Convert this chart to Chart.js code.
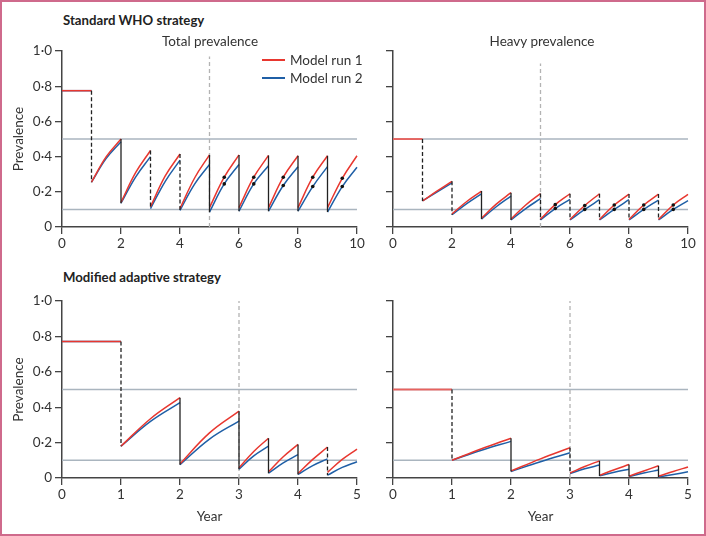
<!DOCTYPE html>
<html><head><meta charset="utf-8">
<script src="https://cdn.jsdelivr.net/npm/chart.js@4.4.1/dist/chart.umd.min.js"></script>
<style>
html,body{margin:0;padding:0;background:#fff;}
body{width:706px;height:536px;position:relative;overflow:hidden;}
#frame{position:absolute;left:0;top:0;width:706px;height:536px;box-sizing:border-box;border:2px solid #cf6a8c;pointer-events:none;}
.box{position:absolute;}
.h{position:absolute;font-family:Lato;font-weight:bold;font-size:13.2px;line-height:16px;color:#222;white-space:nowrap;}
.t{position:absolute;font-family:Lato;font-size:13.5px;line-height:16px;color:#333;white-space:nowrap;}
.lg{position:absolute;height:1.6px;width:23px;}
</style></head><body>
<div class="box" style="left:0;top:40px;width:372px;height:217px"><canvas id="c1" width="372" height="217"></canvas></div>
<div class="box" style="left:363px;top:40px;width:340px;height:217px"><canvas id="c2" width="340" height="217"></canvas></div>
<div class="box" style="left:0;top:290px;width:372px;height:236px"><canvas id="c3" width="372" height="236"></canvas></div>
<div class="box" style="left:363px;top:290px;width:340px;height:236px"><canvas id="c4" width="340" height="236"></canvas></div>

<div class="h" style="left:63px;top:12px">Standard WHO strategy</div>
<div class="h" style="left:63px;top:269px">Modified adaptive strategy</div>
<div class="t" style="left:210px;top:33px;transform:translateX(-50%)">Total prevalence</div>
<div class="t" style="left:542px;top:33px;transform:translateX(-50%)">Heavy prevalence</div>
<div class="lg" style="left:262px;top:59px;background:#e8372f"></div>
<div class="t" style="left:290px;top:52px">Model run 1</div>
<div class="lg" style="left:262px;top:77px;background:#1f5fa6"></div>
<div class="t" style="left:290px;top:70px">Model run 2</div>
<div id="frame"></div>
<script>
// ---- data ----
const yTickValues = [0, 0.2, 0.4, 0.6, 0.8, 1.0];
const yTickLabels = ['0', '0·2', '0·4', '0·6', '0·8', '1·0'];
const whoXTicks = [0, 2, 4, 6, 8, 10];
const adaptXTicks = [0, 1, 2, 3, 4, 5];
const thresholds = [0.5, 0.1];

// Standard WHO strategy: segment boundaries (years)
const whoBreaks = [0, 1, 2, 3, 4, 5, 6, 7, 8, 9, 10];
// each segment: [start, middle, end] prevalence
const whoTotalRun1 = [[0.775,0.775,0.775],[0.255,0.40,0.50],[0.14,0.31,0.435],[0.115,0.29,0.415],[0.105,0.28,0.41],[0.11,0.283,0.41],[0.11,0.283,0.407],[0.11,0.283,0.405],[0.11,0.283,0.405],[0.11,0.277,0.405]];
const whoTotalRun2 = [[0.775,0.775,0.775],[0.255,0.39,0.485],[0.135,0.285,0.40],[0.105,0.26,0.38],[0.095,0.245,0.355],[0.085,0.245,0.355],[0.09,0.245,0.348],[0.09,0.236,0.343],[0.09,0.23,0.343],[0.085,0.23,0.34]];
const whoTotalDrops = ['dash','solid','dash','dash','solid','solid','solid','solid','solid'];
const whoDotX = [5.5, 6.5, 7.5, 8.5, 9.5];
const whoTotalDots1 = [0.283, 0.283, 0.283, 0.283, 0.277];
const whoTotalDots2 = [0.245, 0.245, 0.236, 0.23, 0.23];

const whoHeavyRun1 = [[0.50,0.50,0.50],[0.148,0.205,0.26],[0.075,0.145,0.204],[0.05,0.13,0.195],[0.045,0.125,0.19],[0.045,0.127,0.189],[0.043,0.122,0.189],[0.043,0.125,0.187],[0.043,0.125,0.187],[0.043,0.125,0.185]];
const whoHeavyRun2 = [[0.50,0.50,0.50],[0.148,0.20,0.251],[0.07,0.133,0.189],[0.045,0.115,0.176],[0.04,0.105,0.161],[0.04,0.105,0.157],[0.04,0.10,0.155],[0.04,0.10,0.155],[0.04,0.10,0.153],[0.04,0.10,0.15]];
const whoHeavyDrops = ['dash','dash','solid','solid','dash','dash','dash','dash','dash'];
const whoHeavyDots1 = [0.127, 0.122, 0.125, 0.125, 0.125];
const whoHeavyDots2 = [0.105, 0.10, 0.10, 0.10, 0.10];

// Modified adaptive strategy
const adaptBreaks = [0, 1, 2, 3, 3.5, 4, 4.5, 5];
const adaptTotalRun1 = [[0.771,0.771,0.771],[0.18,0.335,0.454],[0.08,0.255,0.378],[0.058,0.15,0.225],[0.035,0.12,0.19],[0.025,0.105,0.175],[0.032,0.105,0.163]];
const adaptTotalRun2 = [[0.771,0.771,0.771],[0.18,0.32,0.426],[0.075,0.22,0.322],[0.05,0.125,0.18],[0.027,0.085,0.132],[0.02,0.07,0.108],[0.016,0.06,0.092]];
const adaptTotalDrops = ['dash','solid','solid','solid','solid','dash'];

const adaptHeavyRun1 = [[0.50,0.50,0.50],[0.10,0.165,0.225],[0.04,0.108,0.171],[0.028,0.065,0.097],[0.015,0.047,0.076],[0.01,0.04,0.069],[0.01,0.037,0.062]];
const adaptHeavyRun2 = [[0.50,0.50,0.50],[0.10,0.157,0.207],[0.037,0.092,0.143],[0.025,0.052,0.073],[0.012,0.033,0.05],[0.008,0.028,0.045],[0.006,0.02,0.035]];
const adaptHeavyDrops = ['dash','solid','dash','solid','solid','solid'];

// ---- styles ----
const RED = '#e8372f', BLUE = '#1f5fa6', GREY = '#aab5bf', BLACK = '#222';
Chart.defaults.font.family = 'Lato';

function segData(breaks, segs, i) {
  const a = breaks[i], b = breaks[i + 1];
  const s = segs[i];
  return [{x: a, y: s[0]}, {x: (a + b) / 2, y: s[1]}, {x: b, y: s[2]}];
}

function makePanel(id, p) {
  const ds = [];
  // dots (on top)
  if (p.dotX) {
    [p.dots1, p.dots2].forEach(arr => {
      ds.push({data: p.dotX.map((x, k) => ({x, y: arr[k]})), showLine: false, pointRadius: 1.8,
        pointBackgroundColor: '#111', pointBorderWidth: 0, borderWidth: 0});
    });
  }
  // drops
  for (let i = 1; i < p.breaks.length - 1; i++) {
    const top = Math.max(p.run1[i - 1][2], p.run2[i - 1][2]);
    const bot = Math.min(p.run1[i][0], p.run2[i][0]);
    const dashed = p.drops[i - 1] === 'dash';
    ds.push({data: [{x: p.breaks[i], y: top}, {x: p.breaks[i], y: bot}], borderColor: BLACK,
      borderWidth: 1.3, borderDash: dashed ? [4, 2.5] : [], pointRadius: 0});
  }
  // runs: red over blue
  [[p.run1, RED], [p.run2, BLUE]].forEach(([run, col]) => {
    for (let i = 0; i < run.length; i++) {
      ds.push({data: segData(p.breaks, run, i), borderColor: (i === 0 && p.flatColor) ? p.flatColor : col,
        borderWidth: 1.5, pointRadius: 0, tension: 0.4});
    }
  });
  // vertical dashed reference
  ds.push({data: [{x: p.vx, y: 0}, {x: p.vx, y: p.vTop}], borderColor: '#b3b3b3', borderWidth: 1.3,
    borderDash: [4, 3], pointRadius: 0});
  // horizontal thresholds
  thresholds.forEach(t => ds.push({data: [{x: 0, y: t}, {x: p.xMax, y: t}], borderColor: GREY,
    borderWidth: 1.5, pointRadius: 0}));

  new Chart(document.getElementById(id), {
    type: 'line',
    data: {datasets: ds},
    options: {
      responsive: false, animation: false, clip: false,
      layout: {padding: {top: 9, right: 15, left: 0, bottom: 0}},
      plugins: {legend: {display: false}, tooltip: {enabled: false}},
      scales: {
        x: {type: 'linear', min: 0, max: p.xMax,
          afterBuildTicks: s => { s.ticks = p.xTicks.map(v => ({value: v})); },
          afterFit: s => { s.height = p.xH; },
          ticks: {color: '#333', font: {size: 13.5}, padding: 2, maxRotation: 0, autoSkip: false,
            callback: v => String(v)},
          grid: {drawOnChartArea: false, drawTicks: true, tickLength: 7, color: '#444', lineWidth: 1.3},
          border: {color: '#444', width: 1.5},
          title: {display: p.xTitle, text: 'Year', color: '#333', font: {size: 13.5}, padding: {top: 0, bottom: 1}}
        },
        y: {min: 0, max: 1,
          afterBuildTicks: s => { s.ticks = yTickValues.map(v => ({value: v})); },
          afterFit: s => { s.width = p.yW; },
          ticks: {color: '#333', font: {size: 13.5}, padding: 3,
            callback: (v, i) => p.yLabels ? yTickLabels[i] : ''},
          grid: {drawOnChartArea: false, drawTicks: true, tickLength: 7, color: '#444', lineWidth: 1.3},
          border: {color: '#444', width: 1.5},
          title: {display: p.yLabels, text: 'Prevalence', color: '#333', font: {size: 13.5}, padding: {top: 11, bottom: 0}}
        }
      }
    }
  });
}

makePanel('c1', {breaks: whoBreaks, run1: whoTotalRun1, run2: whoTotalRun2, drops: whoTotalDrops,
  dotX: whoDotX, dots1: whoTotalDots1, dots2: whoTotalDots2, vx: 5, vTop: 0.97, xMax: 10, xTicks: whoXTicks,
  xH: 30, yW: 62, yLabels: true, xTitle: false});
makePanel('c2', {breaks: whoBreaks, run1: whoHeavyRun1, run2: whoHeavyRun2, drops: whoHeavyDrops,
  dotX: whoDotX, dots1: whoHeavyDots1, dots2: whoHeavyDots2, vx: 5, vTop: 0.93, xMax: 10, xTicks: whoXTicks,
  xH: 30, yW: 30, yLabels: false, xTitle: false, flatColor: '#e8625e'});
makePanel('c3', {breaks: adaptBreaks, run1: adaptTotalRun1, run2: adaptTotalRun2, drops: adaptTotalDrops,
  vx: 3, vTop: 1.0, xMax: 5, xTicks: adaptXTicks, xH: 48, yW: 62, yLabels: true, xTitle: true});
makePanel('c4', {breaks: adaptBreaks, run1: adaptHeavyRun1, run2: adaptHeavyRun2, drops: adaptHeavyDrops,
  vx: 3, vTop: 1.0, xMax: 5, xTicks: adaptXTicks, xH: 48, yW: 30, yLabels: false, xTitle: true, flatColor: '#e8625e'});
</script>
</body></html>
